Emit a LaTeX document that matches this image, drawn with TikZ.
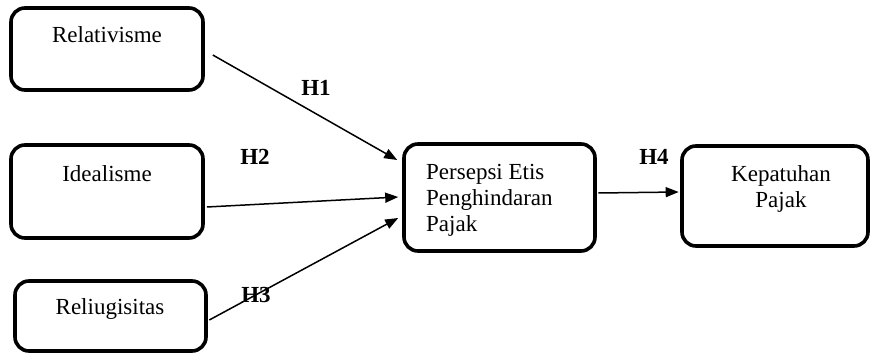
\documentclass[tikz,border=0pt]{standalone}
\usepackage{fontspec}
\setmainfont{Liberation Serif}
\usetikzlibrary{arrows.meta}
\begin{document}
\begin{tikzpicture}[x=1pt,y=-1pt,
  box/.style={draw, line width=3.6pt, rounded corners=14pt, inner sep=0pt},
  lbl/.style={font=\fontsize{23}{26}\selectfont, inner sep=0pt, anchor=base},
  hyp/.style={font=\fontsize{23}{26}\selectfont\bfseries, inner sep=0pt, anchor=base},
  link/.style={line width=1.5pt, -{Triangle[length=13pt,width=10pt]}}]
\useasboundingbox (0,0) rectangle (871,355);

% variable boxes
\node[box, minimum width=192pt, minimum height=82pt] (rel) at (107,49) {};
\node[box, minimum width=192pt, minimum height=93pt] (ide) at (107,191.5) {};
\node[box, minimum width=191pt, minimum height=70pt] (rel2) at (110.5,316) {};
\node[box, minimum width=191pt, minimum height=107pt] (per) at (499.5,197.5) {};
\node[box, minimum width=186pt, minimum height=100pt] (kep) at (775,196) {};

% box texts (multi-line nodes sit on the baseline of their last line)
\node[lbl] (trel) at (107,43) {Relativisme};
\node[lbl] (tide) at (107,182) {Idealisme};
\node[lbl] (trel2) at (110,315) {Reliugisitas};
\node[lbl, anchor=base west, align=left] (tper) at (426,232) {Persepsi Etis\\Penghindaran\\Pajak};
\node[lbl, align=center] (tkep) at (781,208) {Kepatuhan\\Pajak};

% hypothesis paths
\draw[link] ([shift={(8,6)}]rel.east) -- ([shift={(-5,-37.5)}]per.west);
\draw[link] ([shift={(2,15.5)}]ide.east) -- ([shift={(-4,-0.5)}]per.west);
\draw[link] ([shift={(1.5,4)}]rel2.east) -- ([shift={(-4,20.5)}]per.west);
\draw[link] ([shift={(1.5,-4.5)}]per.east) -- ([shift={(-1.5,-4)}]kep.west);

% hypothesis labels
\node[hyp] (h1) at (316,96) {H1};
\node[hyp] (h2) at (255,165) {H2};
\node[hyp] (h3) at (256,303) {H3};
\node[hyp] (h4) at (654,165) {H4};
\end{tikzpicture}
\end{document}
